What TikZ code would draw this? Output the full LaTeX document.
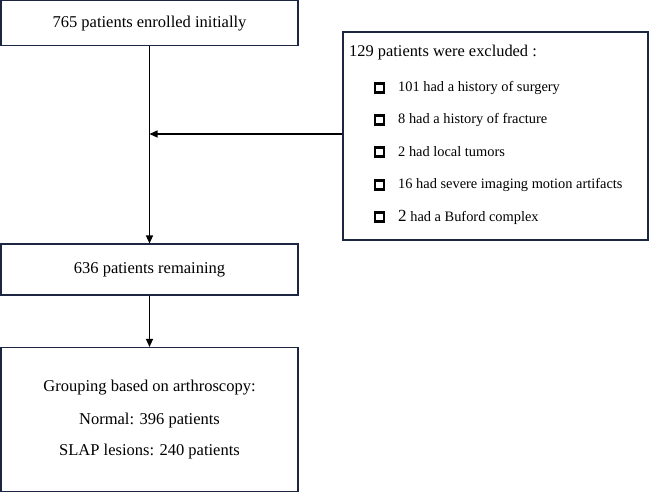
\documentclass[tikz,border=0pt]{standalone}
\usepackage{fontspec}
\setmainfont{Liberation Serif}
\usetikzlibrary{arrows.meta}
\definecolor{boxline}{HTML}{1C2541}
\begin{document}
\begin{tikzpicture}[x=1pt,y=1pt,
  box/.style={draw=boxline,line width=1.1pt,fill=white,inner sep=0pt},
  bigtxt/.style={font=\fontsize{16.5}{19}\selectfont,inner sep=0pt},
  itemtxt/.style={font=\fontsize{14.4}{17}\selectfont,inner sep=0pt,anchor=west},
  bul/.style={draw=black,line width=2.4pt,minimum size=9pt,inner sep=0pt},
  conn/.style={draw=black,line width=1.1pt,-{Triangle[length=8pt,width=7pt]}}]
\useasboundingbox (0,0) rectangle (651,-493);
% boxes
\node[box,minimum width=297pt,minimum height=45pt] (top) at (149.5,-23) {};
\node[bigtxt] (toptxt) at (149.5,-24) {765 patients enrolled initially};
\node[box,minimum width=305pt,minimum height=208pt] (excl) at (495.5,-136) {};
\node[box,minimum width=297pt,minimum height=51pt] (remain) at (149.5,-269.5) {};
\node[bigtxt] (remaintxt) at (149.5,-270) {636 patients remaining};
\node[box,minimum width=297pt,minimum height=144pt] (group) at (149.5,-419.5) {};
\node[bigtxt] (g1) at (149.5,-388) {Grouping based on arthroscopy:};
\node[bigtxt] (g2) at (149.5,-421) {Normal: 396 patients};
\node[bigtxt] (g3) at (149.5,-452) {SLAP lesions: 240 patients};
% exclusion contents
\node[font=\fontsize{16.4}{19}\selectfont,inner sep=0pt,anchor=west] (ex0) at (349,-53) {129 patients were excluded :};
\foreach \i/\y/\t in {1/88/{101 had a history of surgery},2/120/{8 had a history of fracture},3/152/{2 had local tumors},4/185/{16 had severe imaging motion artifacts},5/217/{{\fontsize{17}{17}\selectfont 2} had a Buford complex}}{
  \node[bul] (b\i) at (379.5,-\y) {};
  \node[itemtxt] (ex\i) at (398,-\y) {\t};
}
% connectors
\coordinate (join) at (149.5,-134);
\draw[conn] (top.south) -- (remain.north);
\draw[conn] (excl.west |- join) -- (join);
\draw[conn] (remain.south) -- (group.north);
\end{tikzpicture}
\end{document}
